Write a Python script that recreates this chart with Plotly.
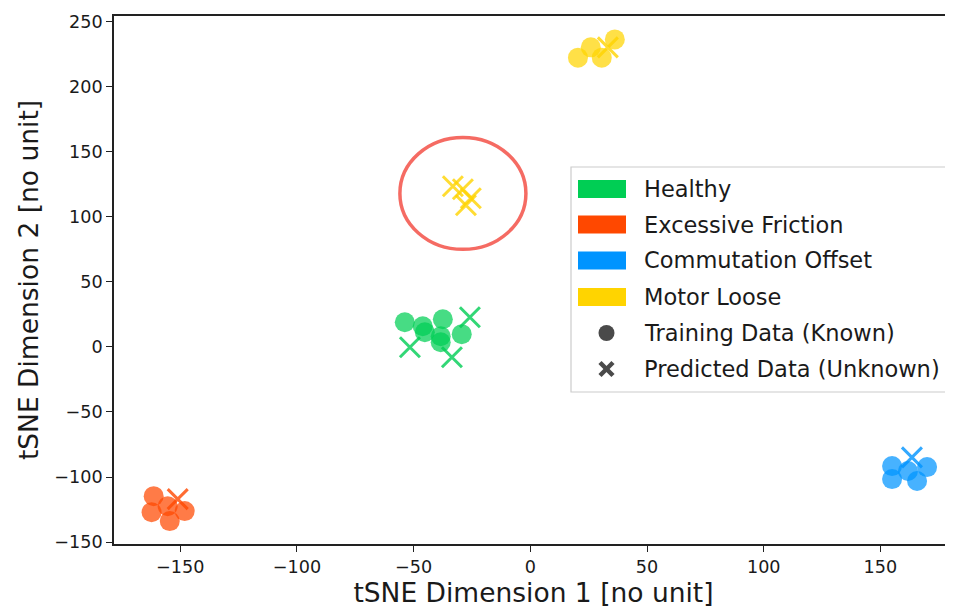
import plotly.graph_objects as go

# ---------------- data ----------------
classes = ["Healthy", "Excessive Friction", "Commutation Offset", "Motor Loose"]
colors = ["rgb(0,206,84)", "rgb(255,72,0)", "rgb(0,148,255)", "rgb(255,212,0)"]

healthy_train_x = [-53.8, -46.1, -37.5, -45.2, -38.4, -38.4, -29.4]
healthy_train_y = [19.0, 15.9, 21.3, 11.3, 8.2, 3.6, 9.8]
healthy_pred_x = [-25.9, -51.6, -33.6]
healthy_pred_y = [22.8, -0.2, -7.9]

friction_train_x = [-161.4, -162.3, -155.4, -154.5, -148.1]
friction_train_y = [-114.7, -127.0, -122.4, -133.9, -126.2]
friction_pred_x = [-151.1]
friction_pred_y = [-117.0]

commutation_train_x = [155.0, 155.0, 161.8, 165.7, 170.0]
commutation_train_y = [-91.6, -101.6, -95.4, -103.1, -92.4]
commutation_pred_x = [163.5]
commutation_pred_y = [-84.9]

loose_train_x = [20.4, 25.9, 30.6, 36.2]
loose_train_y = [222.4, 230.3, 222.4, 236.4]
loose_pred_x = [33.2, -33.2, -28.9, -25.5, -27.6]
loose_pred_y = [230.3, 123.5, 121.2, 114.3, 108.9]

train_x = [healthy_train_x, friction_train_x, commutation_train_x, loose_train_x]
train_y = [healthy_train_y, friction_train_y, commutation_train_y, loose_train_y]
pred_x = [healthy_pred_x, friction_pred_x, commutation_pred_x, loose_pred_x]
pred_y = [healthy_pred_y, friction_pred_y, commutation_pred_y, loose_pred_y]

# highlighted region (ellipse) in data units
ellipse_x = [-55.9, -1.9]
ellipse_y = [75.0, 161.0]

x_ticks = [-150, -100, -50, 0, 50, 100, 150]
y_ticks = [-150, -100, -50, 0, 50, 100, 150, 200, 250]
x_range = [-178.4, 181.1]
y_range = [-151.5, 254.4]

legend_items = classes + ["Training Data (Known)", "Predicted Data (Unknown)"]

# ---------------- figure ----------------
# the page body has an 8px margin, so the figure sits at (8, 8) in the window
OFF = 8
W, H = 953 - OFF, 610 - OFF
ML, MR, MT, MB = 114 - OFF, 0, 16 - OFF, H - (544 - OFF)
PW, PH = W - ML - MR, H - MT - MB

def px(xp):  # window pixel -> paper
    return (xp - OFF - ML) / PW

def py(yp):
    return (H - MB - (yp - OFF)) / PH

FONT = "DejaVu Sans"
fig = go.Figure()

for i in range(4):
    fig.add_trace(go.Scatter(
        x=train_x[i], y=train_y[i], mode="markers", showlegend=False,
        marker=dict(symbol="circle", size=20, color=colors[i], opacity=0.72,
                    line=dict(width=0)),
        name=classes[i] + " (training)"))
for i in range(4):
    fig.add_trace(go.Scatter(
        x=pred_x[i], y=pred_y[i], mode="markers", showlegend=False,
        marker=dict(symbol="x-thin", size=20, color=colors[i], opacity=0.8,
                    line=dict(width=3, color=colors[i])),
        name=classes[i] + " (predicted)"))

shapes = []
annotations = []
# ellipse highlight
shapes.append(dict(type="circle", xref="x", yref="y",
                   x0=ellipse_x[0], x1=ellipse_x[1], y0=ellipse_y[0], y1=ellipse_y[1],
                   line=dict(color="rgba(242,70,60,0.8)", width=3.5), layer="above"))

# manual legend
shapes.append(dict(type="rect", xref="paper", yref="paper",
                   x0=px(571), x1=px(948), y0=py(392), y1=py(167),
                   line=dict(color="#cccccc", width=1.2), fillcolor="rgba(255,255,255,0.85)",
                   layer="above"))
row_y = [189, 224.5, 260.5, 297, 333, 369]
for i in range(4):
    shapes.append(dict(type="rect", xref="paper", yref="paper",
                       x0=px(578), x1=px(626), y0=py(row_y[i] + 9), y1=py(row_y[i] - 9),
                       line=dict(width=0), fillcolor=colors[i], layer="above"))
# circle glyph
shapes.append(dict(type="circle", xref="paper", yref="paper",
                   x0=px(598.5), x1=px(614.5), y0=py(row_y[4] + 8), y1=py(row_y[4] - 8),
                   line=dict(width=0), fillcolor="#4a4a4a", layer="above"))
# cross glyph
cx, cy, s = 606.5, row_y[5], 6.5
shapes.append(dict(type="line", xref="paper", yref="paper",
                   x0=px(cx - s), x1=px(cx + s), y0=py(cy - s), y1=py(cy + s),
                   line=dict(color="#4a4a4a", width=4.5), layer="above"))
shapes.append(dict(type="line", xref="paper", yref="paper",
                   x0=px(cx - s), x1=px(cx + s), y0=py(cy + s), y1=py(cy - s),
                   line=dict(color="#4a4a4a", width=4.5), layer="above"))
for i, label in enumerate(legend_items):
    annotations.append(dict(text=label, xref="paper", yref="paper",
                            x=px(642), y=py(row_y[i]), xanchor="left", yanchor="middle",
                            showarrow=False, font=dict(family=FONT, size=22.5, color="#1a1a1a")))

fig.update_layout(
    width=W, height=H,
    margin=dict(l=ML, r=MR, t=MT, b=MB),
    paper_bgcolor="white", plot_bgcolor="white",
    font=dict(family=FONT, color="#1a1a1a"),
    shapes=shapes, annotations=annotations,
    showlegend=False,
)
fig.update_xaxes(range=x_range, tickvals=x_ticks, showgrid=False, zeroline=False,
                 showline=True, linecolor="#222", linewidth=1.6, mirror=True,
                 ticks="outside", ticklen=6, tickwidth=1.4, tickcolor="#222",
                 tickfont=dict(size=17.6, family=FONT, color="#1a1a1a"),
                 title=dict(text="tSNE Dimension 1 [no unit]", standoff=6,
                            font=dict(size=26.5, family=FONT, color="#1a1a1a")))
fig.update_yaxes(range=y_range, tickvals=y_ticks, showgrid=False, zeroline=False,
                 showline=True, linecolor="#222", linewidth=1.6, mirror=False,
                 ticks="outside", ticklen=6, tickwidth=1.4, tickcolor="#222",
                 tickfont=dict(size=17.6, family=FONT, color="#1a1a1a"),
                 title=dict(text="tSNE Dimension 2 [no unit]", standoff=8,
                            font=dict(size=26.5, family=FONT, color="#1a1a1a")))

fig.write_html("out.html")
